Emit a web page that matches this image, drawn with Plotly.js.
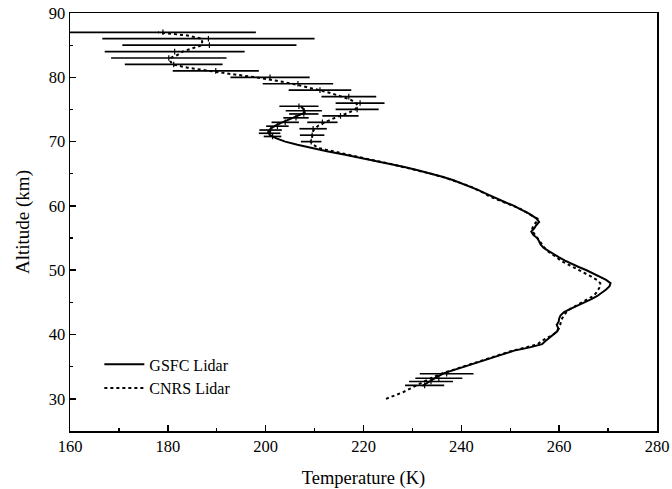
<!DOCTYPE html>
<html>
<head>
<meta charset="utf-8">
<script src="https://cdn.plot.ly/plotly-3.0.1.min.js"></script>
<style>html,body{margin:0;padding:0;background:#fff;}#chart{width:672px;height:489px;}</style>
</head>
<body>
<div id="chart"></div>
<script>
// GSFC Lidar profile (solid)
const gsfcAlt = [32,32.5,33,33.5,34,34.5,35,35.5,36,36.5,37,37.5,38,38.5,39,39.5,40,40.5,41,41.5,42,42.5,43,43.5,44,44.5,45,45.5,46,46.5,47,47.5,48,48.5,49,49.5,50,50.5,51,51.5,52,52.5,53,53.5,54,54.5,55,55.5,56,56.5,57,57.5,58,58.5,59,59.5,60,60.5,61,61.5,62,62.5,63,63.5,64,64.5,65,65.5,66,66.5,67,67.5,68,68.5,69,69.5,70,70.5,71,71.5,72,72.5,73,73.5,74,74.5,75,75.5];
const gsfcTemp = [232.0,233.0,234.0,235.2,236.5,238.5,240.5,242.3,244.3,246.5,248.5,250.8,254.0,256.5,257.2,258.0,258.8,259.6,259.8,259.5,259.9,260.0,260.3,261.0,262.3,263.8,265.2,266.6,267.8,268.8,269.6,270.3,270.5,269.6,268.3,267.0,265.6,264.0,262.5,261.2,260.0,258.8,257.8,256.8,256.2,255.9,255.5,254.7,254.3,254.9,255.3,255.9,255.4,254.5,253.4,252.0,250.8,249.2,247.6,246.0,244.8,243.4,241.8,240.0,238.4,236.3,234.0,231.3,228.6,225.6,222.5,219.3,216.0,212.5,209.3,206.5,204.0,202.2,200.9,200.5,201.0,202.0,203.4,204.8,206.5,208.0,207.8,207.2];

// CNRS Lidar profile (dotted)
const cnrsAlt = [30,30.5,31,31.5,32,32.5,33,33.5,34,34.5,35,35.5,36,36.5,37,37.5,38,38.5,39,39.5,40,40.5,41,41.5,42,42.5,43,43.5,44,44.5,45,45.5,46,46.5,47,47.5,48,48.5,49,49.5,50,50.5,51,51.5,52,52.5,53,53.5,54,54.5,55,55.5,56,56.5,57,57.5,58,58.5,59,59.5,60,60.5,61,61.5,62,62.5,63,63.5,64,64.5,65,65.5,66,66.5,67,67.5,68,68.5,69,69.5,70,70.5,71,71.5,72,72.5,73,73.5,74,74.5,75,75.5,76,76.5,77,77.5,78,78.5,79,79.5,80,80.5,81,81.5,82,82.5,83,83.5,84,84.5,85,85.5,86,86.5,87];
const cnrsTemp = [224.6,226.4,228.0,229.3,230.5,231.8,233.2,234.6,236.2,238.3,240.3,242.4,244.4,246.3,248.2,250.5,253.2,255.6,256.4,257.5,258.8,259.6,260.0,260.2,260.4,260.6,261.0,261.5,262.3,263.5,264.8,265.9,267.0,267.6,268.0,268.4,268.4,267.7,266.6,265.3,264.0,262.6,261.3,260.3,259.5,258.5,257.6,257.0,256.5,256.0,255.6,255.0,254.6,254.5,254.8,255.3,255.6,254.4,253.2,252.2,250.6,249.0,247.2,245.7,244.6,243.4,241.9,240.1,238.2,236.2,233.8,231.2,228.5,225.7,222.6,219.5,216.4,213.3,210.8,209.8,209.2,209.4,209.6,209.6,210.0,210.8,212.0,213.5,215.2,217.0,218.3,218.8,218.5,217.4,215.5,213.5,211.0,208.5,205.5,202.0,198.0,193.0,188.0,184.0,181.0,180.5,180.5,182.0,183.0,185.0,187.0,187.0,187.0,184.0,178.0];

// Error-bar points: altitude, centre temperature, half-width
const barAlt = [87,86,85,84,83,82,81,80,79,78,77,76,75,74,73,72,71,70, 75.5,74.8,74.3,73.7,73.0,72.4,71.8,71.3,70.8, 33.9,33.2,32.7,32.1];
const barTemp = [179,188.3,188.5,181.4,180.2,181.2,189.8,200.9,206.6,211.1,217.0,219.3,218.7,215.3,211.6,209.7,209.5,209.3, 206.8,207.8,207.8,206.2,204.0,202.4,201.0,200.8,201.4, 237.0,235.4,233.8,232.5];
const barErr = [19,21.7,17.8,14.3,11.8,10,8.8,8.1,7.2,6.4,5.6,5.0,4.4,3.7,3.1,2.8,2.5,2.1, 4.0,3.7,3.0,2.6,2.8,2.3,2.3,2.2,1.8, 5.5,4.8,4.5,4.0];

const xTicks = [160,180,200,220,240,260,280];
const yTicks = [30,40,50,60,70,80,90];

const font = {family: '"Liberation Serif", "Times New Roman", serif', color: '#000'};

const traces = [
  {x: gsfcTemp, y: gsfcAlt, type: 'scatter', mode: 'lines', name: 'GSFC Lidar',
   line: {color: '#000', width: 2}},
  {x: cnrsTemp, y: cnrsAlt, type: 'scatter', mode: 'lines', name: 'CNRS Lidar',
   line: {color: '#000', width: 2, dash: 'dot'}},
  {x: barTemp, y: barAlt, type: 'scatter', mode: 'markers', showlegend: false,
   marker: {symbol: 'line-ns', size: 4, line: {color: '#000', width: 1.2}, color: '#000'},
   error_x: {type: 'data', array: barErr, symmetric: true, color: '#000', thickness: 1.7, width: 0}}
];

const layout = {
  width: 672, height: 489,
  margin: {l: 70, r: 15, t: 13, b: 58},
  paper_bgcolor: '#fff', plot_bgcolor: '#fff',
  font: Object.assign({size: 16}, font),
  showlegend: true,
  legend: {x: 0.05, y: 0.2, xanchor: 'left', yanchor: 'top', bgcolor: 'rgba(0,0,0,0)',
           font: Object.assign({size: 16}, font), tracegroupgap: 0, itemwidth: 40},
  xaxis: {
    range: [160, 280], tickvals: xTicks, ticktext: xTicks.map(String),
    ticks: 'inside', ticklen: 6, tickwidth: 1.5, tickcolor: '#000',
    minor: {dtick: 10, ticks: 'inside', ticklen: 3, tickwidth: 1.2, tickcolor: '#000', showgrid: false},
    showline: true, linecolor: '#000', linewidth: 1.5, mirror: true,
    showgrid: false, zeroline: false,
    tickfont: Object.assign({size: 16.5}, font),
    title: {text: 'Temperature (K)', font: Object.assign({size: 18.5}, font), standoff: 16}
  },
  yaxis: {
    range: [25, 90], tickvals: yTicks, ticktext: yTicks.map(String),
    ticks: 'inside', ticklen: 6, tickwidth: 1.5, tickcolor: '#000',
    minor: {dtick: 5, ticks: 'inside', ticklen: 3, tickwidth: 1.2, tickcolor: '#000', showgrid: false},
    showline: true, linecolor: '#000', linewidth: 1.5, mirror: true,
    showgrid: false, zeroline: false,
    tickfont: Object.assign({size: 16.5}, font),
    title: {text: 'Altitude (km)', font: Object.assign({size: 19}, font), standoff: 14}
  }
};

Plotly.newPlot('chart', traces, layout, {displayModeBar: false, staticPlot: true});
</script>
</body>
</html>
